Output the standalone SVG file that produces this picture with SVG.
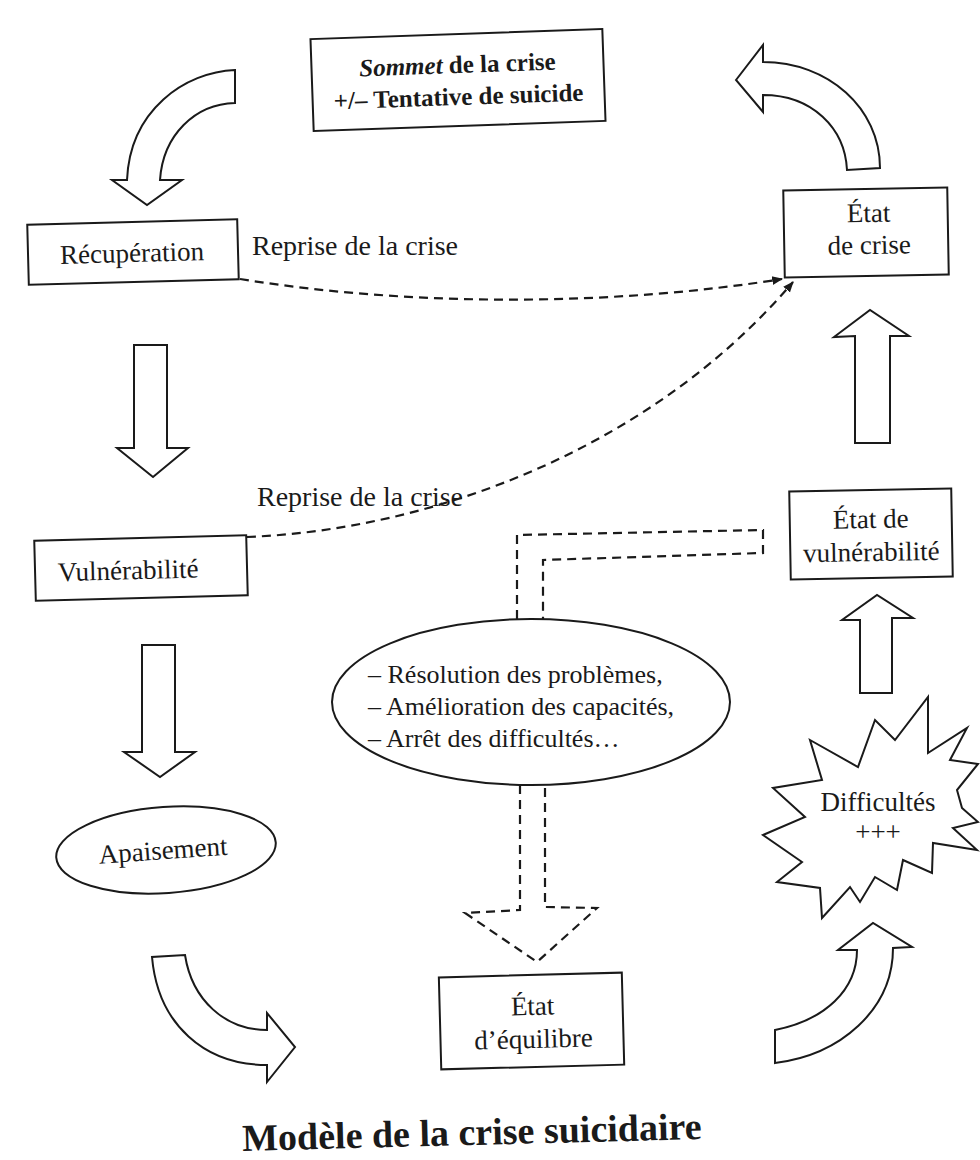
<svg xmlns="http://www.w3.org/2000/svg" width="980" height="1160" viewBox="0 0 980 1160">
<style>
.bx{fill:#fff;stroke:#1a1a1a;stroke-width:2}
.ar{fill:#fff;stroke:#1a1a1a;stroke-width:2;stroke-linejoin:miter}
.t{font-family:"Liberation Serif","Times New Roman",serif;font-size:27px;fill:#1a1a1a}
.c{text-anchor:middle}
.b{font-weight:bold}
.s25{font-size:25px}
.s26{font-size:26px}
.s28{font-size:28px}
.s38{font-size:38px}
.d{fill:none;stroke:#1a1a1a;stroke-width:2.2;stroke-dasharray:9 6}
</style>
<defs>
<marker id="ah" viewBox="0 0 10 10" refX="9" refY="5" markerWidth="5" markerHeight="5" orient="auto" markerUnits="strokeWidth">
<path d="M0,1 L10,5 L0,9 Z" fill="#1a1a1a"/>
</marker>
</defs>
<rect width="980" height="1160" fill="#fff"/>

<g id="sommet" transform="rotate(-2 458 80)">
<rect class="bx" x="312" y="34" width="292" height="92"/>
<text class="t c b s25" x="458" y="73"><tspan font-style="italic">Sommet</tspan> de la crise</text>
<text class="t c b s25" x="458" y="105">+/– Tentative de suicide</text>
</g>

<g id="recuperation" transform="rotate(-1.5 133 252)">
<rect class="bx" x="28" y="222" width="210" height="60"/>
<text class="t c" x="132" y="262">Récupération</text>
</g>

<g id="etat-crise" transform="rotate(-1 866 232)">
<rect class="bx" x="784" y="189" width="164" height="87"/>
<text class="t c" x="869" y="222">État</text>
<text class="t c" x="869" y="254">de crise</text>
</g>

<g id="vulnerabilite" transform="rotate(-1.5 141 568)">
<rect class="bx" x="35" y="538" width="212" height="60"/>
<text class="t c" x="128" y="579">Vulnérabilité</text>
</g>

<g id="etat-vulnerabilite" transform="rotate(-1 871 534)">
<rect class="bx" x="790" y="490" width="162" height="88"/>
<text class="t c" x="871" y="528">État de</text>
<text class="t c" x="871" y="561">vulnérabilité</text>
</g>

<g id="resolution">
<ellipse class="bx" cx="531" cy="702" rx="199" ry="83"/>
<text class="t s26" x="368" y="683">– Résolution des problèmes,</text>
<text class="t s26" x="368" y="715">– Amélioration des capacités,</text>
<text class="t s26" x="368" y="747">– Arrêt des difficultés…</text>
</g>

<g id="apaisement" transform="rotate(-4 166 850)">
<ellipse class="bx" cx="166" cy="850" rx="110" ry="43"/>
<text class="t c" x="163" y="859">Apaisement</text>
</g>

<g id="difficultes">
<polygon class="bx" points="810,740 858,767 875,720 895,740 928,697 928,753 967,728 950,760 978,764 957,790 962,808 978,822 953,828 977,850 933,843 932,873 903,860 897,890 875,877 860,902 850,887 822,918 820,888 777,882 802,862 763,835 805,817 773,788 822,780"/>
<text class="t c" x="878" y="811">Difficultés</text>
<text class="t c" x="878" y="841">+++</text>
</g>

<g id="etat-equilibre" transform="rotate(-1.5 532 1020)">
<rect class="bx" x="440" y="975" width="183" height="92"/>
<text class="t c" x="533" y="1015">État</text>
<text class="t c" x="533" y="1048">d’équilibre</text>
</g>

<g id="title" transform="rotate(-1.5 472 1140)">
<text class="t c b s38" x="472" y="1145">Modèle de la crise suicidaire</text>
</g>

<g id="connectors">
<path class="ar" d="M235,70 C185,72 130,110 127,180 L112,180 L147,205 L182,180 L160,180 C163,135 195,104 235,103 Z"/>
<path class="ar" d="M736,80 L763,45 L763,62 C828,62 880,108 880,168 L847,170 C845,128 812,95 763,95 L763,112 Z"/>
<path class="ar" d="M134,345 L167,345 L167,448 L188,448 L153,477 L117,448 L134,448 Z"/>
<path class="ar" d="M142,645 L175,645 L175,752 L195,752 L160,777 L124,752 L142,752 Z"/>
<path class="ar" d="M855,443 L855,336 L834,337 L870,310 L909,336 L890,336 L890,443 Z"/>
<path class="ar" d="M860,693 L860,620 L842,620 L877,595 L913,618 L892,618 L892,693 Z"/>
<path class="ar" d="M185,955 C192,1000 225,1030 267,1030 L267,1013 L295,1047 L267,1082 L267,1065 C205,1065 158,1025 152,957 Z"/>
<path class="ar" d="M775,1030 C825,1020 857,990 857,950 L838,950 L873,923 L912,947 L893,948 C893,1010 840,1055 775,1063 Z"/>
<path class="d" d="M240,279 C420,308 620,305 782,279" marker-end="url(#ah)"/>
<path class="d" d="M247,537 C430,530 650,450 793,282" marker-end="url(#ah)"/>
<path class="d" d="M517,619 V535 L763,530 V553 L543,560 V619"/>
<path class="d" d="M520,785 V910 L465,913 L537,962 L597,908 L545,907 V785"/>
<text class="t s28" x="252" y="255">Reprise de la crise</text>
<text class="t s28" x="257" y="506">Reprise de la crise</text>
</g>
</svg>
